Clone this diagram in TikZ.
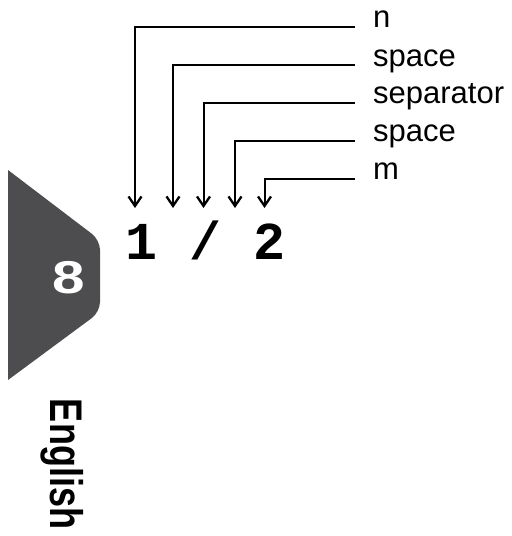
\documentclass[tikz,border=0pt]{standalone}
\usepackage{fontspec}
\setmainfont{Liberation Sans}
\newfontfamily\monob{Liberation Mono}[BoldFont={* Bold}]
\usetikzlibrary{arrows.meta}
\definecolor{panelgray}{RGB}{77,77,79}
\tikzset{
  lab/.style={anchor=base west, inner sep=0pt, font=\fontsize{31bp}{36bp}\selectfont},
  pointer/.style={line width=2bp, -{Straight Barb[length=9.5bp,width=13bp,line width=2.3bp]}},
}
\begin{document}
\begin{tikzpicture}[x=1bp,y=-1bp]
\useasboundingbox (0,0) rectangle (512,536);
% left panel
\fill[panelgray] (8,170) [rounded corners=10bp] -- (100,240) -- (100,312) [sharp corners] -- (8,380) -- cycle;
\node[text=white, inner sep=0pt, font=\fontsize{46bp}{50bp}\selectfont\bfseries] (num) at (68.5,277.5) {\scalebox{1.27}[1]{8}};
\node[inner sep=0pt, rotate=-90, font=\fontsize{36bp}{40bp}\selectfont\bfseries] (lang) at (62,464) {\scalebox{1}[1.27]{English}};
% labels
\node[lab] (l1) at (373,28) {n};
\node[lab] (l2) at (373,66.5) {space};
\node[lab] (l3) at (373,104) {separator};
\node[lab] (l4) at (373,142) {space};
\node[lab] (l5) at (373,180) {m};
% string
\node[anchor=base, inner sep=0pt, font=\fontsize{53.3bp}{60bp}\selectfont\monob\bfseries] (str) at (205.5,259) {1 / 2};
% targets
\coordinate (t1) at (135,208);
\coordinate (t2) at (173,208);
\coordinate (t3) at (203.5,208);
\coordinate (t4) at (235,208);
\coordinate (t5) at (264.5,208);
% connectors
\draw[pointer] ([xshift=-18bp,yshift=1bp]l1.base west) -| (t1);
\draw[pointer] ([xshift=-18bp,yshift=1bp]l2.base west) -| (t2);
\draw[pointer] ([xshift=-18bp,yshift=1bp]l3.base west) -| (t3);
\draw[pointer] ([xshift=-18bp,yshift=1bp]l4.base west) -| (t4);
\draw[pointer] ([xshift=-18bp,yshift=1bp]l5.base west) -| (t5);
\end{tikzpicture}
\end{document}
